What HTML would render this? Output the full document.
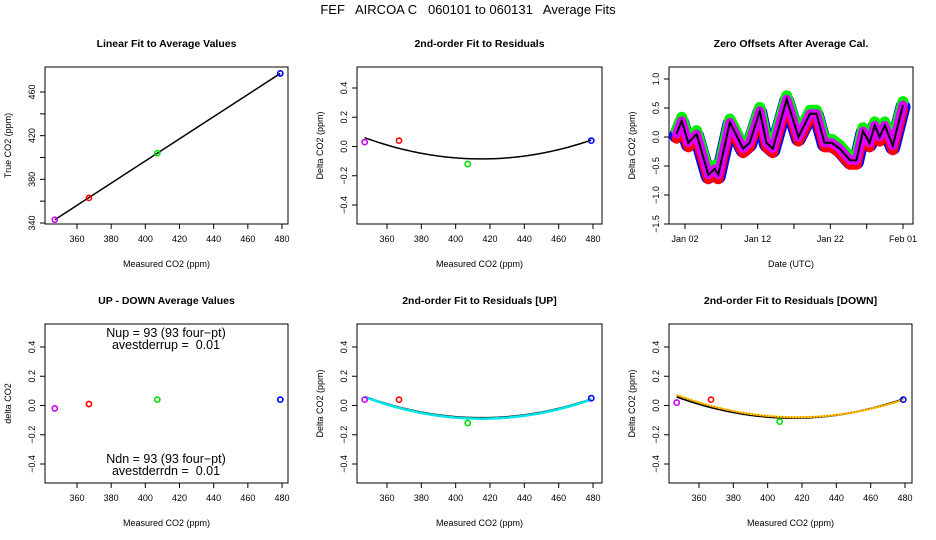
<!DOCTYPE html>
<html><head><meta charset="utf-8"><style>
html,body{margin:0;padding:0;background:#fff;}
svg{display:block;font-family:"Liberation Sans",sans-serif;}
text{white-space:pre;}
</style></head><body>
<svg id="chart" width="936" height="540" viewBox="0 0 936 540" xmlns="http://www.w3.org/2000/svg">
<text x="468" y="14" text-anchor="middle" font-size="13">FEF   AIRCOA C   060101 to 060131   Average Fits</text>
</svg>
<script>
// ---- data ----
const refNames = ["magenta","red","green","blue"];
const refColors = ["#cc00ff","#ff0000","#00e000","#0000ff"];
const measured = [347, 367, 407, 479];
const trueVals = [343, 363, 404, 477];
const residAll = [0.03, 0.04, -0.12, 0.04];
const residUp = [0.04, 0.04, -0.12, 0.05];
const residDown = [0.02, 0.04, -0.11, 0.04];
const upDown = [-0.02, 0.01, 0.04, 0.04];
const fitCoef = [0.0000314, 415, -0.085];   // a, vertex x, vertex y
const fitCoefUp = [0.0000320, 415, -0.090];
const fitCoefDown = [0.0000310, 417, -0.080];
const tsDays = [-0.15,0.54,1.46,2.6,3.52,4.2,5.12,5.58,7.18,9.0,9.9,11.3,12.2,13.1,15.0,16.6,18.2,19.1,20.2,21.2,22.3,23.7,24.6,25.5,26.4,27.1,27.8,28.5,29.6,31.0];
const tsMean = [0.05,0.28,-0.1,0.05,-0.35,-0.65,-0.55,-0.65,0.25,-0.2,-0.1,0.45,-0.1,-0.2,0.65,0.0,0.4,0.4,-0.1,-0.1,-0.2,-0.4,-0.4,0.1,-0.1,0.2,0.0,0.2,-0.15,0.55];
const co2Ticks = [360,380,400,420,440,460,480];
const trueTicks = [340,360,380,400,420,440,460];
const trueTickLabels = ["340","","380","","420","","460"];
const deltaTicks = [-0.4,-0.2,0.0,0.2,0.4];
const deltaTickLabels = ["\u22120.4","\u22120.2","0.0","0.2","0.4"];
const tsYTicks = [-1.5,-1.0,-0.5,0.0,0.5,1.0];
const tsYTickLabels = ["\u22121.5","\u22121.0","\u22120.5","0.0","0.5","1.0"];
const tsXTicks = [1,6,11,16,21,26,31];
const tsXTickLabels = ["Jan 02","","Jan 12","","Jan 22","","Feb 01"];

const svg = document.getElementById('chart');
const NS = "http://www.w3.org/2000/svg";
function mk(tag, attrs, parent){
  const e = document.createElementNS(NS, tag);
  for (const k in attrs) e.setAttribute(k, attrs[k]);
  (parent||svg).appendChild(e); return e;
}
function linScale(v0,p0,v1,p1){ return v => p0 + (v - v0) * (p1 - p0) / (v1 - v0); }

function panel(cfg){
  const g = mk('g', {});
  
  
  const sx = linScale(cfg.xa[0], cfg.xa[1], cfg.xb[0], cfg.xb[1]);
  const sy = linScale(cfg.ya[0], cfg.ya[1], cfg.yb[0], cfg.yb[1]);
  const t = mk('text', {x:(cfg.L+cfg.R)/2, y:cfg.T-20, 'text-anchor':'middle','font-size':'10.5','font-weight':'bold'}, g);
  t.textContent = cfg.title;
  
  
  const box = mk('rect', {x:cfg.L, y:cfg.T, width:cfg.R-cfg.L, height:cfg.B-cfg.T, fill:'none', stroke:'#000','stroke-width':1}, g);
  
  
  const xa = mk('g', {}, g);
  
  
  cfg.xt.forEach((v,i) => {
    const x = sx(v);
    mk('line', {x1:x, x2:x, y1:cfg.B, y2:cfg.B+5, stroke:'#000'}, xa);
    const lab = cfg.xl ? cfg.xl[i] : String(v);
    if (lab) { const tt = mk('text', {x:x, y:cfg.B+18, 'text-anchor':'middle','font-size':'9'}, xa); tt.textContent = lab; }
  });
  const xt = mk('text', {x:(cfg.L+cfg.R)/2, y:cfg.B+43, 'text-anchor':'middle','font-size':'9'}, g);
  xt.textContent = cfg.xtitle;
  
  
  const ya = mk('g', {}, g);
  
  
  cfg.yt.forEach((v,i) => {
    const y = sy(v);
    mk('line', {x1:cfg.L-5, x2:cfg.L, y1:y, y2:y, stroke:'#000'}, ya);
    const lab = cfg.yl[i];
    if (lab) { const tt = mk('text', {x:0, y:0, 'text-anchor':'middle','font-size':'9', transform:`translate(${cfg.L-10},${y}) rotate(-90)`}, ya); tt.textContent = lab; }
  });
  const yt = mk('text', {x:0,y:0,'text-anchor':'middle','font-size':'9', transform:`translate(${cfg.L-34},${(cfg.T+cfg.B)/2}) rotate(-90)`}, g);
  yt.textContent = cfg.ytitle;
  
  
  const clip = 'clip-' + cfg.name;
  const cp = mk('clipPath', {id:clip}, g);
  mk('rect', {x:cfg.L, y:cfg.T, width:cfg.R-cfg.L, height:cfg.B-cfg.T}, cp);
  const plot = mk('g', {'clip-path':`url(#${clip})`}, g);
  return {g, plot, sx, sy};
}
function points(p, xs, ys){
  xs.forEach((x,i) => {
    const c = mk('circle', {cx:p.sx(x), cy:p.sy(ys[i]), r:2.6, fill:'none', stroke:refColors[i], 'stroke-width':1.6}, p.plot);
    
    
  });
}
function quad(p, coef, color, width, dash){
  let d = '';
  for (let x = measured[0]; x <= measured[3]; x += 1) {
    const y = coef[0]*(x-coef[1])*(x-coef[1]) + coef[2];
    d += (d ? 'L' : 'M') + p.sx(x).toFixed(1) + ',' + p.sy(y).toFixed(1);
  }
  const e = mk('path', {d, fill:'none', stroke:color, 'stroke-width':width}, p.plot);
  if (dash) e.setAttribute('stroke-dasharray', dash);
  
  
}

// Panel 1: linear fit
const p1 = panel({name:'linear-fit-panel', title:'Linear Fit to Average Values', L:45,R:288,T:67,B:224,
  xa:[360,77], xb:[480,282], ya:[340,223], yb:[460,92], xt:co2Ticks, yt:trueTicks, yl:trueTickLabels,
  xtitle:'Measured CO2 (ppm)', ytitle:'True CO2 (ppm)'});
{
  const slope = (trueVals[3]-trueVals[0])/(measured[3]-measured[0]);
  const l = mk('line', {x1:p1.sx(measured[0]), y1:p1.sy(trueVals[0]), x2:p1.sx(measured[3]), y2:p1.sy(trueVals[0]+slope*(measured[3]-measured[0])), stroke:'#000','stroke-width':1.5}, p1.plot);
  
  
  points(p1, measured, trueVals);
}
// Panel 2: residuals
const p2 = panel({name:'residual-fit-panel', title:'2nd-order Fit to Residuals', L:357,R:602,T:67,B:224,
  xa:[360,387], xb:[480,593], ya:[0.4,88], yb:[-0.4,205], xt:co2Ticks, yt:deltaTicks, yl:deltaTickLabels,
  xtitle:'Measured CO2 (ppm)', ytitle:'Delta CO2 (ppm)'});
quad(p2, fitCoef, '#000', 1.5);
points(p2, measured, residAll);

// Panel 3: time series
const p3 = panel({name:'zero-offsets-panel', title:'Zero Offsets After Average Cal.', L:669,R:913,T:67,B:224,
  xa:[1,685], xb:[31,903], ya:[1.0,79], yb:[-1.5,224], xt:tsXTicks, xl:tsXTickLabels, yt:tsYTicks, yl:tsYTickLabels,
  xtitle:'Date (UTC)', ytitle:'Delta CO2 (ppm)'});
{
  const path = (off) => tsDays.map((d,i) => (i?'L':'M') + p3.sx(d).toFixed(1) + ',' + p3.sy(tsMean[i]+off).toFixed(1)).join('');
  const layers = [['blue-series','#0000ff',-0.03,15],['green-series','#00ee00',0.06,11],['red-series','#ff0000',-0.08,10],['magenta-series','#dd00ff',0.0,9]];
  layers.forEach(L => {
    const e = mk('path', {d:path(L[2]), fill:'none', stroke:L[1], 'stroke-width':L[3], 'stroke-linejoin':'round','stroke-linecap':'round'}, p3.plot);
    
    
  });
  const m = mk('path', {d:path(0), fill:'none', stroke:'#000', 'stroke-width':2}, p3.plot);
  
  
}

// Panel 4: up-down
const p4 = panel({name:'up-down-panel', title:'UP - DOWN Average Values', L:45,R:288,T:324,B:483,
  xa:[360,77], xb:[480,282], ya:[0.4,347], yb:[-0.4,464], xt:co2Ticks, yt:deltaTicks, yl:deltaTickLabels,
  xtitle:'Measured CO2 (ppm)', ytitle:'delta CO2'});
points(p4, measured, upDown);
[['Nup = 93 (93 four\u2212pt)',337,'nup-annotation'],['avestderrup =  0.01',349,'stderr-up-annotation'],['Ndn = 93 (93 four\u2212pt)',463,'ndn-annotation'],['avestderrdn =  0.01',475,'stderr-down-annotation']].forEach(a => {
  const t = mk('text', {x:166, y:a[1], 'text-anchor':'middle','font-size':'12.5'}, p4.g);
  t.textContent = a[0];
  
  
});

// Panel 5: residuals UP
const p5 = panel({name:'residual-up-panel', title:'2nd-order Fit to Residuals [UP]', L:357,R:602,T:324,B:483,
  xa:[360,387], xb:[480,593], ya:[0.4,347], yb:[-0.4,464], xt:co2Ticks, yt:deltaTicks, yl:deltaTickLabels,
  xtitle:'Measured CO2 (ppm)', ytitle:'Delta CO2 (ppm)'});
quad(p5, fitCoef, '#000', 2);
quad(p5, fitCoefUp, '#00e5e5', 2.5);
points(p5, measured, residUp);

// Panel 6: residuals DOWN
const p6 = panel({name:'residual-down-panel', title:'2nd-order Fit to Residuals [DOWN]', L:669,R:912,T:324,B:483,
  xa:[360,699], xb:[480,905], ya:[0.4,347], yb:[-0.4,464], xt:co2Ticks, yt:deltaTicks, yl:deltaTickLabels,
  xtitle:'Measured CO2 (ppm)', ytitle:'Delta CO2 (ppm)'});
quad(p6, fitCoef, '#000', 2);
quad(p6, fitCoefDown, '#ffd000', 2);
quad(p6, fitCoefDown, '#ff3000', 1, '1,2');
points(p6, measured, residDown);
</script>
</body></html>
